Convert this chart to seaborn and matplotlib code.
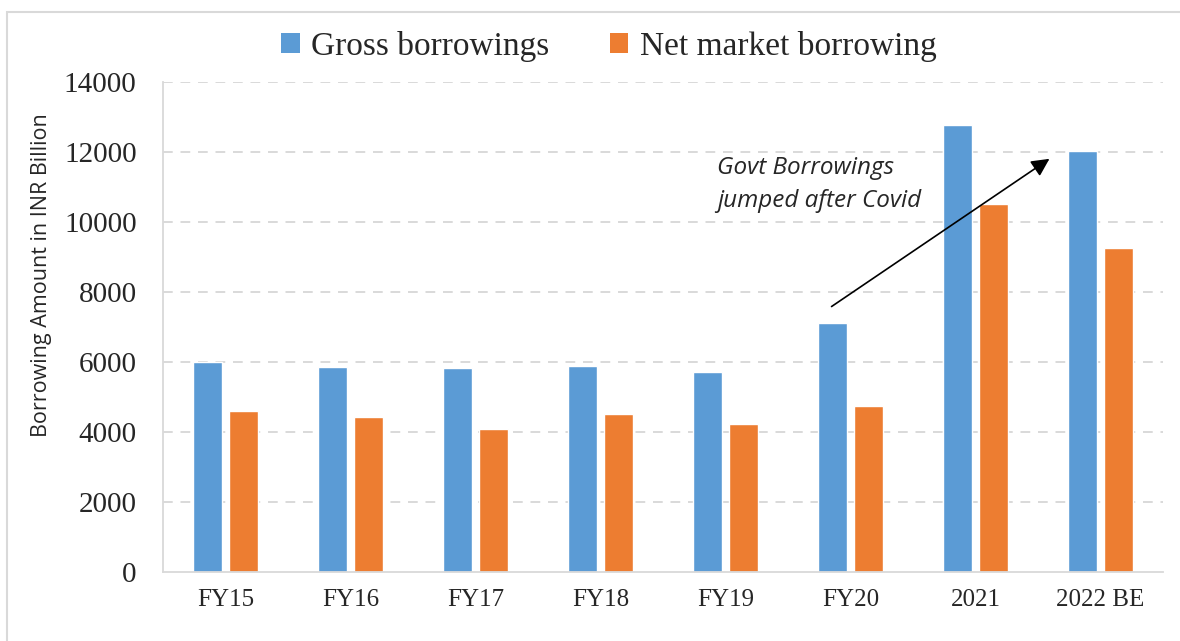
import matplotlib
matplotlib.use("Agg")
import matplotlib.pyplot as plt
import seaborn as sns
import pandas as pd
from matplotlib.patches import Rectangle, Patch

categories = ["FY15", "FY16", "FY17", "FY18", "FY19", "FY20", "2021", "2022 BE"]
gross = [6000, 5850, 5830, 5890, 5710, 7110, 12780, 12040]
net = [4600, 4420, 4090, 4510, 4220, 4740, 10520, 9250]
series = ["Gross borrowings", "Net market borrowing"]
colors = ["#5B9BD5", "#ED7D31"]
yticks = [0, 2000, 4000, 6000, 8000, 10000, 12000, 14000]

df = pd.DataFrame({
    "Year": categories * 2,
    "Value": gross + net,
    "Series": [series[0]] * len(categories) + [series[1]] * len(categories),
})

sns.set_theme(style="white")
plt.rcParams["font.family"] = ["Liberation Serif", "DejaVu Serif"]

fig = plt.figure(figsize=(11.8, 6.41), dpi=100)
ax = fig.add_axes([163 / 1180, 1 - 572 / 641, 1000 / 1180, (572 - 82) / 641])

sns.barplot(data=df, x="Year", y="Value", hue="Series", order=categories,
            hue_order=series, palette=colors, width=0.576, gap=0.22,
            saturation=1, ax=ax, legend=False, errorbar=None)

ax.set_xlim(-0.5, 7.5)
ax.set_ylim(0, 14000)
ax.set_yticks(yticks)
ax.set_yticklabels([str(v) for v in yticks], fontsize=21)
ax.tick_params(axis="x", labelsize=18, pad=12, length=0)
ax.tick_params(axis="y", pad=19, length=0)
ax.set_xlabel("")
ax.set_ylabel("Borrowing Amount in INR Billion", fontsize=15.5, family="Open Sans")
ax.yaxis.set_label_coords(-0.111, 0.605)
for y in yticks[1:]:
    ax.axhline(y, color="#d9d9d9", lw=1.4, ls=(0, (5, 4)), zorder=0)
for s in ["top", "right"]:
    ax.spines[s].set_visible(False)
for s in ["left", "bottom"]:
    ax.spines[s].set_color("#d9d9d9")
    ax.spines[s].set_linewidth(1.3)

ax.annotate("", xy=(6.61, 11850), xytext=(4.83, 7540),
            arrowprops=dict(arrowstyle="-|>,head_length=0.9,head_width=0.45",
                            color="black", lw=1.2))
ax.text(3.93, 11080, "Govt Borrowings\njumped after Covid", fontsize=17.5,
        family="Open Sans", style="italic", va="center", ha="left", linespacing=1.5)

handles = [Patch(facecolor=c, edgecolor="none") for c in colors]
fig.legend(handles, series, loc="center", bbox_to_anchor=(0.516, 0.928), ncol=2,
           frameon=False, fontsize=24, handlelength=0.55, handleheight=0.55,
           handletextpad=0.35, columnspacing=1.8)

fig.patches.append(Rectangle((7 / 1180, -0.05), 1.1, 1.05 - 12 / 641, transform=fig.transFigure,
                             fill=False, edgecolor="#d9d9d9", lw=1.5))

fig.savefig("out.png", dpi=100)
